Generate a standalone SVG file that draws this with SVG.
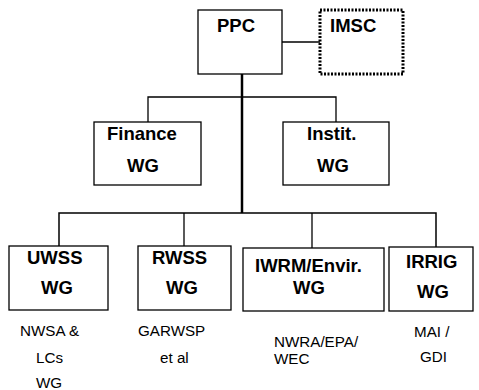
<svg xmlns="http://www.w3.org/2000/svg" width="479" height="390" viewBox="0 0 479 390">
<style>
.box{fill:#fff;stroke:#000;stroke-width:1.3}
.dot{fill:#fff;stroke:#000;stroke-width:3;stroke-dasharray:2 1.5}
.b{font-family:"Liberation Sans",Arial,sans-serif;font-weight:bold;font-size:18.5px;fill:#000}
.r{font-family:"Liberation Sans",Arial,sans-serif;font-size:15.2px;fill:#000}
.c{fill:none;stroke:#000}
</style>
<rect width="479" height="390" fill="#fff"/>
<g id="connectors">
<line class="c" x1="282" y1="42" x2="320" y2="42" stroke-width="1.3"/>
<line class="c" x1="242" y1="74" x2="242" y2="213" stroke-width="2.5"/>
<polyline class="c" points="148,122 148,97 336,97 336,122" stroke-width="1.3"/>
<polyline class="c" points="59,246 59,213 436,213 436,247" stroke-width="1.5"/>
<line class="c" x1="184" y1="213" x2="184" y2="246" stroke-width="1.3"/>
<line class="c" x1="312" y1="213" x2="312" y2="248" stroke-width="1.3"/>
</g>
<g id="ppc"><rect class="box" x="198" y="10" width="84" height="64"/><text class="b" x="217" y="32">PPC</text></g>
<g id="imsc"><rect class="dot" x="320" y="10" width="83" height="64"/><text class="b" x="330" y="32">IMSC</text></g>
<g id="finance"><rect class="box" x="94" y="122" width="107" height="63"/><text class="b" x="107" y="140">Finance</text><text class="b" x="127" y="172">WG</text></g>
<g id="instit"><rect class="box" x="283" y="122" width="106" height="63"/><text class="b" x="307" y="140">Instit.</text><text class="b" x="317" y="172">WG</text></g>
<g id="uwss"><rect class="box" x="9" y="246" width="99" height="64"/><text class="b" x="27" y="264">UWSS</text><text class="b" x="41" y="294">WG</text>
<text class="r" x="20" y="336">NWSA &amp;</text><text class="r" x="36" y="363">LCs</text><text class="r" x="36" y="388">WG</text></g>
<g id="rwss"><rect class="box" x="138" y="246" width="93" height="64"/><text class="b" x="152" y="264">RWSS</text><text class="b" x="166" y="294">WG</text>
<text class="r" x="138" y="336">GARWSP</text><text class="r" x="160" y="363">et al</text></g>
<g id="iwrm"><rect class="box" x="243" y="248" width="141" height="63"/><text class="b" x="255" y="272">IWRM/Envir.</text><text class="b" x="293" y="294">WG</text>
<text class="r" x="274" y="347">NWRA/EPA/</text><text class="r" x="274" y="364">WEC</text></g>
<g id="irrig"><rect class="box" x="389" y="247" width="84" height="64"/><text class="b" x="406" y="268">IRRIG</text><text class="b" x="417" y="298">WG</text>
<text class="r" x="414" y="337">MAI /</text><text class="r" x="420" y="362">GDI</text></g>
</svg>
